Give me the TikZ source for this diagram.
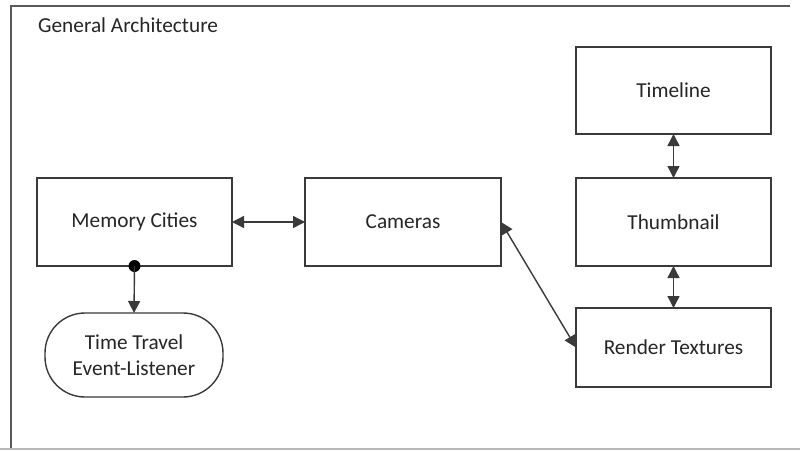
\documentclass[tikz,border=0pt]{standalone}
\usepackage{fontspec}
\setmainfont{Carlito}
\usetikzlibrary{arrows.meta}
\definecolor{edge}{HTML}{3A3A3A}
\definecolor{ink}{HTML}{262626}
\tikzset{
  box/.style={draw=edge, line width=1.4pt, rectangle, inner sep=0pt, outer sep=0pt,
    text=ink, font=\fontsize{21.3}{26}\selectfont, align=center},
  pill/.style={box, rounded corners=40pt},
  tip/.tip={Triangle[width=12pt,length=12pt]},
  link/.style={draw=edge, line width=1.4pt, tip-tip},
  oneway/.style={draw=edge, line width=1.4pt, -tip},
}
\begin{document}
\begin{tikzpicture}[x=1pt,y=-1pt]
  \useasboundingbox (0,0) rectangle (800,450);
  \fill[white] (0,0) rectangle (800,450);
  % frame
  \draw[color=black!65, line width=1.3pt] (790,6) -- (11,6) -- (11,449);
  \draw[color=black!28, line width=1.3pt] (0,449) -- (800,449);
  \node[anchor=base west, text=ink, font=\fontsize{21.3}{26}\selectfont, inner sep=0pt]
    (title) at (38,32) {General Architecture};

  % blocks
  \node[box, minimum width=195pt, minimum height=88pt] (mem) at (134.5,222) {Memory Cities};
  \node[box, minimum width=196pt, minimum height=88pt] (cam) at (403,222) {Cameras};
  \node[box, minimum width=195pt, minimum height=87pt] (tl) at (673.5,90.5) {Timeline};
  \node[box, minimum width=195pt, minimum height=88pt] (th) at (673.5,222) {Thumbnail};
  \node[box, minimum width=195pt, minimum height=79pt] (rt) at (673.5,347.5) {Render Textures};
  \node[pill, minimum width=178pt, minimum height=84pt] (tt) at (134,355) {Time Travel\\Event-Listener};

  % connectors
  \draw[link] (mem.east) -- (cam.west);
  \draw[link] (cam.east) -- (rt.west);
  \draw[link] (tl.south) -- (th.north);
  \draw[link] (th.south) -- (rt.north);
  \fill[black] (mem.south) circle (6pt);
  \draw[oneway] (mem.south) -- (tt.north);
\end{tikzpicture}
\end{document}
